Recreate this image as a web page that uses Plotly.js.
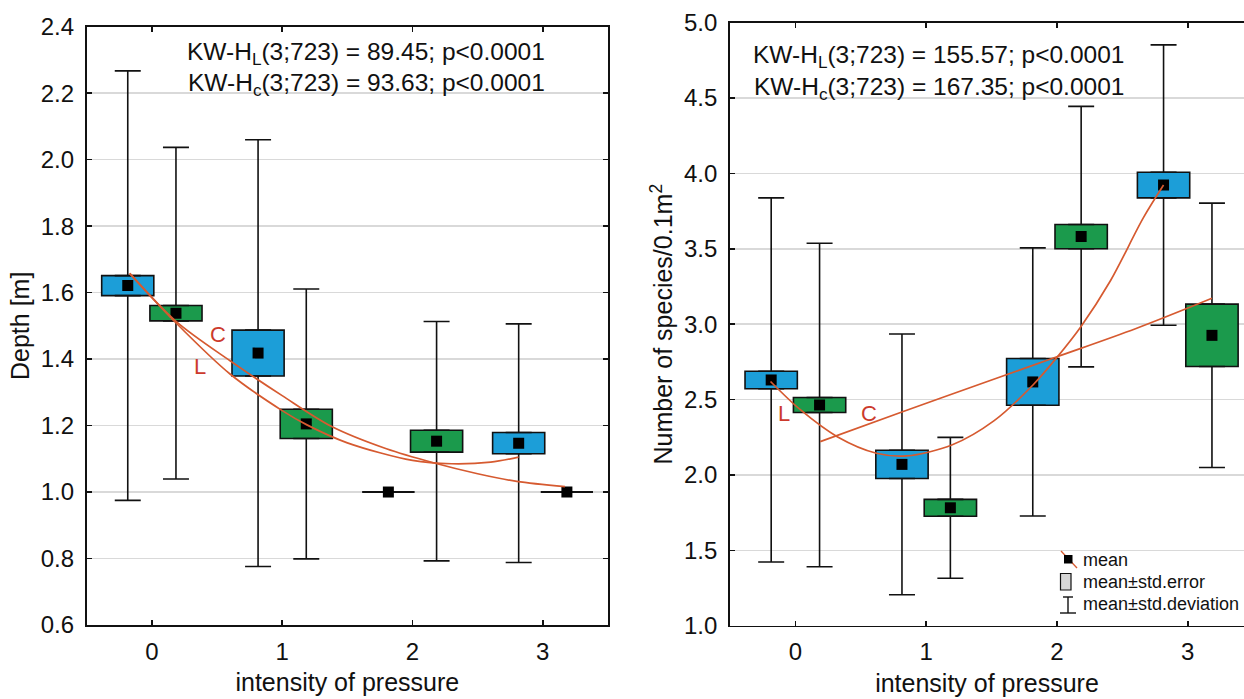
<!DOCTYPE html>
<html><head><meta charset="utf-8">
<script src="https://cdn.plot.ly/plotly-3.0.1.min.js"></script>
<style>html,body{margin:0;padding:0;background:#fff}#chart{width:1244px;height:699px}</style>
</head><body><div id="chart"></div>
<script>
// ---------------- data ----------------
const pressure = [0, 1, 2, 3];
const tickLabels = ['0', '1', '2', '3'];
const groupNames = ['L', 'C'];

// Depth [m]
const depthMeanL = [1.621, 1.418, 1.000, 1.147];
const depthSeL   = [0.030, 0.069, 0.000, 0.032];
const depthSdL   = [0.646, 0.642, 0.000, 0.359];
const depthMeanC = [1.538, 1.205, 1.153, 1.000];
const depthSeC   = [0.023, 0.044, 0.033, 0.000];
const depthSdC   = [0.499, 0.406, 0.360, 0.000];
// fitted trend curves
const depthFitLx = [-0.17, 0.19, 0.6, 1.0, 1.19, 1.5, 2.0, 2.3, 2.6, 2.814];
const depthFitLy = [1.658, 1.507, 1.355, 1.245, 1.202, 1.148, 1.095, 1.085, 1.090, 1.105];
const depthFitCx = [-0.17, 0.19, 0.6, 1.0, 1.38, 1.8, 2.16, 2.5, 2.8, 3.17];
const depthFitCy = [1.658, 1.512, 1.395, 1.290, 1.197, 1.130, 1.088, 1.055, 1.032, 1.016];

// Number of species / 0.1 m2
const spMeanL = [2.630, 2.070, 2.617, 3.923];
const spSeL   = [0.058, 0.094, 0.155, 0.085];
const spSdL   = [1.208, 0.865, 0.889, 0.930];
const spMeanC = [2.464, 1.782, 3.581, 2.926];
const spSeC   = [0.050, 0.056, 0.080, 0.207];
const spSdC   = [1.073, 0.467, 0.864, 0.877];
const spFitLx = [-0.19, 0.04, 0.32, 0.62, 0.85, 1.2, 1.52, 1.82, 2.0, 2.18, 2.41, 2.66, 2.815];
const spFitLy = [2.620, 2.431, 2.254, 2.144, 2.126, 2.200, 2.360, 2.600, 2.780, 2.980, 3.290, 3.705, 3.923];
const spFitCx = [0.19, 0.83, 1.5, 2.0, 2.6, 3.185];
const spFitCy = [2.221, 2.423, 2.630, 2.784, 2.970, 3.172];

const kwDepth = ['KW-H<sub>L</sub>(3;723) = 89.45; p<0.0001', 'KW-H<sub>c</sub>(3;723) = 93.63; p<0.0001'];
const kwSpecies = ['KW-H<sub>L</sub>(3;723) = 155.57; p<0.0001', 'KW-H<sub>c</sub>(3;723) = 167.35; p<0.0001'];
const legendLabels = ['mean', 'mean\u00b1std.error', 'mean\u00b1std.deviation'];

// ---------------- style ----------------
const FONT = 'Arial, "Liberation Sans", Helvetica, sans-serif';
const BLUE = '#1c9ed8', GREEN = '#1b9a4c', FIT = '#d65a30', LABEL = '#cc3a2c', INK = '#111111';
const OFF = 0.185, BOXW = 0.4;
const W = 1244, H = 699;
const PX = x => x / W, PY = y => 1 - y / H;

const traces = [];
function addGroup(xa, ya, mean, se, sd, offset, color) {
  const xs = pressure.map(p => p + offset);
  traces.push({type: 'bar', x: xs, y: se.map(s => 2 * s), base: mean.map((m, i) => m - se[i]),
    width: BOXW, marker: {color: color, line: {color: INK, width: 1.6}},
    xaxis: xa, yaxis: ya, showlegend: false, hoverinfo: 'skip'});
  // upper whisker
  traces.push({type: 'scatter', mode: 'markers', x: xs, y: mean.map((m, i) => m + se[i]),
    marker: {opacity: 0, size: 1},
    error_y: {type: 'data', symmetric: false, array: sd.map((d, i) => d - se[i]), arrayminus: sd.map(() => 0),
      width: 13, thickness: 1.6, color: INK},
    xaxis: xa, yaxis: ya, showlegend: false, hoverinfo: 'skip'});
  // lower whisker
  traces.push({type: 'scatter', mode: 'markers', x: xs, y: mean.map((m, i) => m - se[i]),
    marker: {opacity: 0, size: 1},
    error_y: {type: 'data', symmetric: false, array: sd.map(() => 0), arrayminus: sd.map((d, i) => d - se[i]),
      width: 13, thickness: 1.6, color: INK},
    xaxis: xa, yaxis: ya, showlegend: false, hoverinfo: 'skip'});
  // zero-spread groups are drawn as a flat line across the box width
  const flatIdx = se.map((s, i) => s === 0 ? i : -1).filter(i => i >= 0);
  if (flatIdx.length) {
    traces.push({type: 'scatter', mode: 'markers', x: flatIdx.map(i => xs[i]), y: flatIdx.map(i => mean[i]),
      marker: {opacity: 0, size: 1},
      error_x: {type: 'data', array: flatIdx.map(() => BOXW / 2), width: 0, thickness: 1.8, color: INK},
      xaxis: xa, yaxis: ya, showlegend: false, hoverinfo: 'skip'});
  }
}
function addMeans(xa, ya, mean, offset) {
  traces.push({type: 'scatter', mode: 'markers', x: pressure.map(p => p + offset), y: mean,
    marker: {symbol: 'square', size: 11, color: '#000'}, xaxis: xa, yaxis: ya, showlegend: false});
}
function addFit(xa, ya, fx, fy, name) {
  traces.push({type: 'scatter', mode: 'lines', x: fx, y: fy, name: name,
    line: {color: FIT, width: 1.7, shape: 'spline', smoothing: 0.9}, xaxis: xa, yaxis: ya, showlegend: false});
}

addGroup('x', 'y', depthMeanL, depthSeL, depthSdL, -OFF, BLUE);
addGroup('x', 'y', depthMeanC, depthSeC, depthSdC, OFF, GREEN);
addGroup('x2', 'y2', spMeanL, spSeL, spSdL, -OFF, BLUE);
addGroup('x2', 'y2', spMeanC, spSeC, spSdC, OFF, GREEN);
addMeans('x', 'y', depthMeanL, -OFF);
addMeans('x', 'y', depthMeanC, OFF);
addMeans('x2', 'y2', spMeanL, -OFF);
addMeans('x2', 'y2', spMeanC, OFF);
addFit('x', 'y', depthFitLx, depthFitLy, groupNames[0]);
addFit('x', 'y', depthFitCx, depthFitCy, groupNames[1]);
addFit('x2', 'y2', spFitLx, spFitLy, groupNames[0]);
addFit('x2', 'y2', spFitCx, spFitCy, groupNames[1]);

const tickFont = {family: FONT, size: 24, color: '#111'};
const titleFont = {family: FONT, size: 25, color: '#111'};
function xAxis(domain, range, anchor) {
  return {domain: domain, range: range, anchor: anchor, tickmode: 'array', tickvals: pressure, ticktext: tickLabels,
    ticks: 'inside', ticklen: 5, tickwidth: 1.5, tickcolor: INK, showline: true, linecolor: INK, linewidth: 1.8,
    mirror: 'ticks', showgrid: false, zeroline: false, tickfont: tickFont, ticklabelstandoff: 4,
    title: {text: 'intensity of pressure', font: titleFont, standoff: 10}, fixedrange: true};
}
function yAxis(domain, range, dtick, anchor, title, mirror) {
  return {domain: domain, range: range, anchor: anchor, dtick: dtick, tick0: 0, tickformat: '.1f',
    ticks: 'inside', ticklen: 5, tickwidth: 1.5, tickcolor: INK, showline: true, linecolor: INK, linewidth: 1.8,
    mirror: mirror, showgrid: true, gridcolor: '#d9d9d9', gridwidth: 1.5, zeroline: false, tickfont: tickFont,
    ticklabelstandoff: 6, title: {text: title, font: titleFont, standoff: 4}, fixedrange: true};
}

const annotations = [];
function txt(x, y, text, size, color, xanchor, xref, yref) {
  annotations.push({x: x, y: y, xref: xref || 'paper', yref: yref || 'paper', text: text, showarrow: false,
    xanchor: xanchor || 'center', yanchor: 'middle', font: {family: FONT, size: size, color: color || '#111'}});
}
txt(PX(366), PY(53), kwDepth[0], 24.5);
txt(PX(366), PY(85), kwDepth[1], 24.5);
txt(PX(939), PY(57), kwSpecies[0], 24.5);
txt(PX(939), PY(88), kwSpecies[1], 24.5);
// curve labels
txt(0.51, 1.473, groupNames[1], 22, LABEL, 'center', 'x', 'y');
txt(0.37, 1.377, groupNames[0], 22, LABEL, 'center', 'x', 'y');
txt(-0.09, 2.409, groupNames[0], 22, LABEL, 'center', 'x2', 'y2');
txt(0.56, 2.409, groupNames[1], 22, LABEL, 'center', 'x2', 'y2');
// legend text
txt(PX(1081), PY(560), legendLabels[0], 18, '#111', 'left');
txt(PX(1081), PY(582), legendLabels[1], 18, '#111', 'left');
txt(PX(1081), PY(604), legendLabels[2], 18, '#111', 'left');

const pl = (x0, y0, x1, y1, color, width) => ({type: 'line', xref: 'paper', yref: 'paper',
  x0: PX(x0), y0: PY(y0), x1: PX(x1), y1: PY(y1), line: {color: color, width: width}});
const shapes = [
  pl(1061, 551, 1077, 568, FIT, 1.3),
  {type: 'rect', xref: 'paper', yref: 'paper', x0: PX(1064), x1: PX(1072.5), y0: PY(563.5), y1: PY(555),
    fillcolor: '#000', line: {width: 0}},
  {type: 'rect', xref: 'paper', yref: 'paper', x0: PX(1060.5), x1: PX(1071), y0: PY(590), y1: PY(573.5),
    fillcolor: '#d6d6d6', line: {color: INK, width: 1.2}},
  pl(1068, 597, 1068, 613, INK, 1.4),
  pl(1063, 597, 1073, 597, INK, 1.4),
  pl(1060, 613, 1076, 613, INK, 1.4)
];

const layout = {
  width: W, height: H, margin: {l: 0, r: 0, t: 0, b: 0},
  paper_bgcolor: '#ffffff', plot_bgcolor: '#ffffff',
  barmode: 'overlay', showlegend: false, font: {family: FONT, color: '#111'},
  xaxis: xAxis([0.0697, 0.4887], [-0.5, 3.5], 'y'),
  yaxis: yAxis([0.1059, 0.9618], [0.6, 2.4], 0.2, 'x', 'Depth [m]', 'ticks'),
  xaxis2: xAxis([0.5868, 1], [-0.5, 3.43], 'y2'),
  yaxis2: yAxis([0.1049, 0.9675], [1.0, 5.0], 0.5, 'x2', 'Number of species/0.1m<sup>2</sup>', false),
  annotations: annotations, shapes: shapes
};
Plotly.newPlot('chart', traces, layout, {displayModeBar: false, staticPlot: true});
</script></body></html>
